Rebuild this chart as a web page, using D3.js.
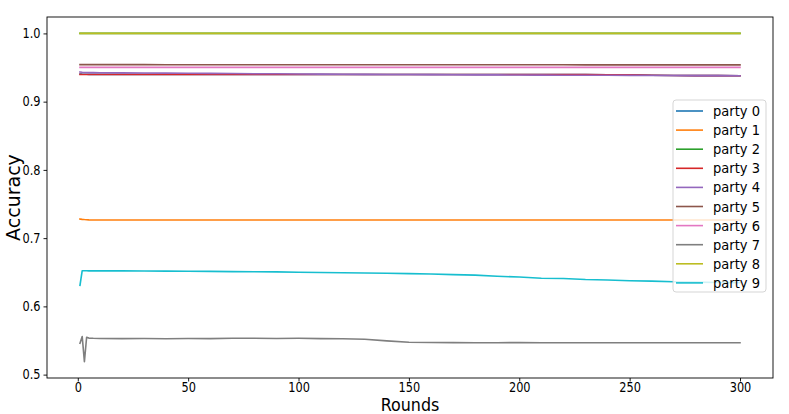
<!DOCTYPE html>
<html>
<head>
<meta charset="utf-8">
<script src="https://cdn.jsdelivr.net/npm/d3@7"></script>
<style>
  html, body { margin: 0; padding: 0; background: #fff; }
  svg { display: block; font-family: "DejaVu Sans", sans-serif; }
</style>
</head>
<body>
<svg id="chart" width="789" height="414"></svg>
<script>
const rounds = [1,2,3,4,5,7,10,20,30,40,50,60,70,80,90,100,110,120,130,140,150,160,170,180,190,200,210,220,230,240,250,260,270,280,290,300];

const partyNames = ["party 0","party 1","party 2","party 3","party 4","party 5","party 6","party 7","party 8","party 9"];
const partyColors = ["#1f77b4","#ff7f0e","#2ca02c","#d62728","#9467bd","#8c564b","#e377c2","#7f7f7f","#bcbd22","#17becf"];

const party0 = [0.9405,0.9403,0.9402,0.9401,0.9400,0.9400,0.9400,0.9400,0.9400,0.9400,0.9400,0.9400,0.9400,0.9399,0.9399,0.9399,0.9399,0.9398,0.9398,0.9398,0.9398,0.9398,0.9397,0.9397,0.9397,0.9397,0.9396,0.9396,0.9396,0.9395,0.9392,0.9388,0.9384,0.9382,0.9381,0.9380];
const party1 = [0.7280,0.7275,0.7272,0.7270,0.7268,0.7266,0.7265,0.7265,0.7265,0.7265,0.7265,0.7265,0.7265,0.7265,0.7265,0.7265,0.7265,0.7265,0.7265,0.7265,0.7265,0.7265,0.7265,0.7265,0.7265,0.7265,0.7265,0.7265,0.7265,0.7265,0.7265,0.7265,0.7265,0.7265,0.7265,0.7265];
const party2 = [1.0,1.0,1.0,1.0,1.0,1.0,1.0,1.0,1.0,1.0,1.0,1.0,1.0,1.0,1.0,1.0,1.0,1.0,1.0,1.0,1.0,1.0,1.0,1.0,1.0,1.0,1.0,1.0,1.0,1.0,1.0,1.0,1.0,1.0,1.0,1.0];
const party3 = [0.9400,0.9399,0.9399,0.9399,0.9399,0.9399,0.9399,0.9399,0.9399,0.9399,0.9399,0.9399,0.9399,0.9398,0.9398,0.9398,0.9398,0.9398,0.9398,0.9398,0.9398,0.9398,0.9397,0.9397,0.9397,0.9397,0.9396,0.9396,0.9396,0.9395,0.9392,0.9388,0.9384,0.9382,0.9381,0.9380];
const party4 = [0.9435,0.9430,0.9428,0.9427,0.9426,0.9425,0.9424,0.9422,0.9420,0.9418,0.9416,0.9414,0.9412,0.9410,0.9408,0.9406,0.9404,0.9402,0.9400,0.9399,0.9398,0.9396,0.9395,0.9393,0.9392,0.9390,0.9389,0.9388,0.9387,0.9386,0.9385,0.9384,0.9383,0.9382,0.9381,0.9380];
const party5 = [0.9542,0.9542,0.9542,0.9542,0.9542,0.9542,0.9542,0.9542,0.9542,0.9541,0.9541,0.9541,0.9541,0.9541,0.9541,0.9541,0.9541,0.9540,0.9540,0.9540,0.9540,0.9540,0.9540,0.9540,0.9540,0.9540,0.9540,0.9540,0.9539,0.9539,0.9539,0.9539,0.9539,0.9539,0.9539,0.9539];
const party6 = [0.9503,0.9503,0.9503,0.9503,0.9503,0.9503,0.9503,0.9503,0.9503,0.9503,0.9503,0.9503,0.9503,0.9503,0.9503,0.9503,0.9503,0.9503,0.9503,0.9503,0.9503,0.9503,0.9503,0.9503,0.9503,0.9503,0.9503,0.9503,0.9503,0.9503,0.9503,0.9503,0.9503,0.9503,0.9503,0.9503];
const party7 = [0.5460,0.5557,0.5190,0.5548,0.5535,0.5532,0.5530,0.5528,0.5530,0.5525,0.5530,0.5528,0.5534,0.5533,0.5530,0.5532,0.5528,0.5525,0.5518,0.5495,0.5475,0.5470,0.5469,0.5468,0.5468,0.5469,0.5468,0.5467,0.5468,0.5467,0.5468,0.5467,0.5467,0.5466,0.5466,0.5466];
const party8 = [1.0,1.0,1.0,1.0,1.0,1.0,1.0,1.0,1.0,1.0,1.0,1.0,1.0,1.0,1.0,1.0,1.0,1.0,1.0,1.0,1.0,1.0,1.0,1.0,1.0,1.0,1.0,1.0,1.0,1.0,1.0,1.0,1.0,1.0,1.0,1.0];
const party9 = [0.6310,0.6523,0.6522,0.6522,0.6520,0.6520,0.6521,0.6520,0.6519,0.6517,0.6515,0.6513,0.6510,0.6508,0.6505,0.6500,0.6497,0.6492,0.6490,0.6485,0.6480,0.6475,0.6465,0.6458,0.6442,0.6430,0.6412,0.6408,0.6393,0.6387,0.6375,0.6370,0.6360,0.6355,0.6350,0.6348];

const series = [party0,party1,party2,party3,party4,party5,party6,party7,party8,party9];

const xTicks = [0,50,100,150,200,250,300];
const yTicks = [0.5,0.6,0.7,0.8,0.9,1.0];
const xLabel = "Rounds";
const yLabel = "Accuracy";

const plot = {left: 47, top: 17, right: 773, bottom: 378};

const svg = d3.select("#chart");

const x = d3.scaleLinear().domain([-13.95, 314.95]).range([plot.left, plot.right]);
const y = d3.scaleLinear().domain([0.49505, 1.02405]).range([plot.bottom, plot.top]);

function squeeze(sel, k) {
  sel.each(function() {
    const w = this.getComputedTextLength();
    this.setAttribute("textLength", (w * k).toFixed(2));
    this.setAttribute("lengthAdjust", "spacingAndGlyphs");
  });
}

// lines
const line = d3.line().x((d, i) => x(rounds[i])).y(d => y(d));
const gLines = svg.append("g");
series.forEach((s, k) => {
  gLines.append("path")
    .datum(s)
    .attr("d", line)
    .attr("fill", "none")
    .attr("stroke", partyColors[k])
    .attr("stroke-width", 1.6)
    .attr("stroke-linejoin", "round")
    .attr("stroke-linecap", "square");
});

// axes
const xAxis = d3.axisBottom(x).tickValues(xTicks).tickFormat(d3.format("d")).tickSize(3.5).tickPadding(1);
const yAxis = d3.axisLeft(y).tickValues(yTicks).tickFormat(d3.format(".1f")).tickSize(3.5).tickPadding(3);

const gx = svg.append("g").attr("transform", `translate(0,${plot.bottom})`).call(xAxis);
const gy = svg.append("g").attr("transform", `translate(${plot.left},0)`).call(yAxis);
[gx, gy].forEach(g => {
  g.select(".domain").remove();
  g.selectAll(".tick line").attr("stroke", "#000").attr("stroke-width", 0.9);
  g.selectAll(".tick text").attr("fill", "#000").style("font-size", "13.5px").style("font-family", "DejaVu Sans");
  squeeze(g.selectAll(".tick text"), 0.84);
});

// frame
svg.append("rect")
  .attr("x", plot.left).attr("y", plot.top)
  .attr("width", plot.right - plot.left).attr("height", plot.bottom - plot.top)
  .attr("fill", "none").attr("stroke", "#000").attr("stroke-width", 0.9);

// axis labels
const xl = svg.append("text")
  .attr("x", (plot.left + plot.right) / 2).attr("y", 411)
  .attr("text-anchor", "middle")
  .style("font-size", "18.5px")
  .text(xLabel);
squeeze(xl, 0.86);
svg.append("text")
  .attr("transform", `translate(20,${(plot.top + plot.bottom) / 2}) rotate(-90)`)
  .attr("text-anchor", "middle")
  .style("font-size", "19px")
  .text(yLabel);

// legend
const lg = {x: 673, y: 100, w: 93, h: 192, row: 19.1};
const gLeg = svg.append("g");
gLeg.append("rect")
  .attr("x", lg.x).attr("y", lg.y).attr("width", lg.w).attr("height", lg.h)
  .attr("rx", 3).attr("ry", 3)
  .attr("fill", "#fff").attr("fill-opacity", 0.8)
  .attr("stroke", "#d0d0d0").attr("stroke-width", 0.9);
partyNames.forEach((name, k) => {
  const cy = lg.y + 11 + k * lg.row;
  gLeg.append("line")
    .attr("x1", lg.x + 3).attr("x2", lg.x + 30)
    .attr("y1", cy).attr("y2", cy)
    .attr("stroke", partyColors[k]).attr("stroke-width", 1.6);
  const t = gLeg.append("text")
    .attr("x", lg.x + 40).attr("y", cy)
    .attr("dy", "0.35em")
    .style("font-size", "14.5px")
    .attr("fill", "#000")
    .text(name);
  squeeze(t, 0.9);
});
</script>
</body>
</html>
